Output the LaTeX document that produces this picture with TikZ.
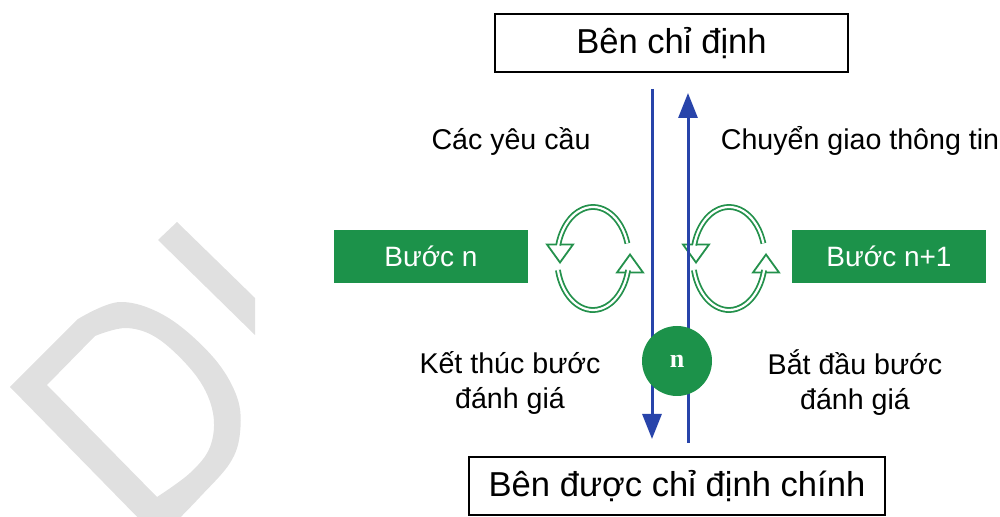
\documentclass[tikz,border=0pt]{standalone}
\usepackage{fontspec}
\setmainfont{Liberation Sans}
\newfontfamily\serifbold{Liberation Serif}
\usetikzlibrary{arrows.meta}

\definecolor{boxgreen}{RGB}{28,146,74}
\definecolor{loopgreen}{RGB}{36,145,76}
\definecolor{flowblue}{RGB}{40,68,170}
\definecolor{markgray}{RGB}{224,224,224}

\begin{document}
\begin{tikzpicture}[x=0.5pt, y=-0.5pt,
    party/.style={draw=black, line width=1pt, minimum height=29pt, inner sep=0pt, font=\fontsize{17.3}{20}\selectfont},
    stepbox/.style={fill=boxgreen, text=white, minimum width=97pt, minimum height=26.5pt, inner sep=0pt, font=\fontsize{14}{17}\selectfont},
    note/.style={align=center, font=\fontsize{14.3}{17.5}\selectfont},
    flowline/.style={flowblue, line width=1.5pt, -{Triangle[width=9.5pt, length=12.5pt]}},
    loophead/.style={fill=white, draw=loopgreen, line width=0.9pt, line join=miter}]
    \useasboundingbox (0,0) rectangle (1000,517);
    \clip (0,0) rectangle (1000,517);

    % Faint letters in the background
    \fill[markgray, even odd rule]
        (10,387) -- plot[smooth, tension=0.6] coordinates {(78,319) (120,302) (167,317) (213,357) (237,397) (240,433) (230,463) (200,497) (168,530)} -- (150,530) -- cycle
        (47,385) -- plot[smooth, tension=0.6] coordinates {(95,336) (127,328) (160,340) (197,377) (213,413) (210,447) (190,473) (157,497)} -- cycle;
    \fill[markgray] (158,240) -- (177,222) -- (255,298) -- (255,335) -- cycle;

    % The two parties
    \node[party, minimum width=176.5pt] (appointing) at (671.5,43) {Bên chỉ định};
    \node[party, minimum width=208pt] (lead) at (677,486) {Bên được chỉ định chính};

    % Stage boxes
    \node[stepbox] (stepn) at (431,256.5) {Bước n};
    \node[stepbox] (stepnext) at (889,256.5) {Bước n+1};

    % Turning arrows on each side of the exchange
    \foreach \cx in {593,729} {
        \begin{scope}[shift={(\cx,258.5)}]
            \filldraw[loophead] (-46,-14) -- (-20,-14) -- (-33,4) -- cycle;
            \filldraw[loophead] (24,14) -- (50,14) -- (37,-4) -- cycle;
            \draw[loopgreen, line width=2.9pt] (-17:36 and 51.5) arc[start angle=-17, end angle=-165, x radius=36, y radius=51.5];
            \draw[white, line width=1.1pt] (-17:36 and 51.5) arc[start angle=-17, end angle=-172, x radius=36, y radius=51.5];
            \draw[loopgreen, line width=2.9pt] (167:36 and 51.5) arc[start angle=167, end angle=13, x radius=36, y radius=51.5];
            \draw[white, line width=1.1pt] (167:36 and 51.5) arc[start angle=167, end angle=6, x radius=36, y radius=51.5];
        \end{scope}
    }

    % Requirements down, information up
    \coordinate (reqtop) at (652,89);
    \coordinate (reqbot) at (652,439);
    \coordinate (infobot) at (688,443);
    \coordinate (infotop) at (688,93);
    \draw[flowline] (reqtop) -- (reqbot);
    \draw[flowline] (infobot) -- (infotop);

    % Stage marker
    \node[circle, fill=boxgreen, text=white, minimum size=35pt, inner sep=0pt, font=\serifbold\bfseries\fontsize{13}{15}\selectfont] (stage) at (677,361) {n};

    % Labels
    \node[note] (requests) at (511,141) {Các yêu cầu};
    \node[note] (transfer) at (860,141) {Chuyển giao thông tin};
    \node[note] (closing) at (510,383) {Kết thúc bước\\đánh giá};
    \node[note] (opening) at (855,383) {Bắt đầu bước\\đánh giá};
\end{tikzpicture}
\end{document}
